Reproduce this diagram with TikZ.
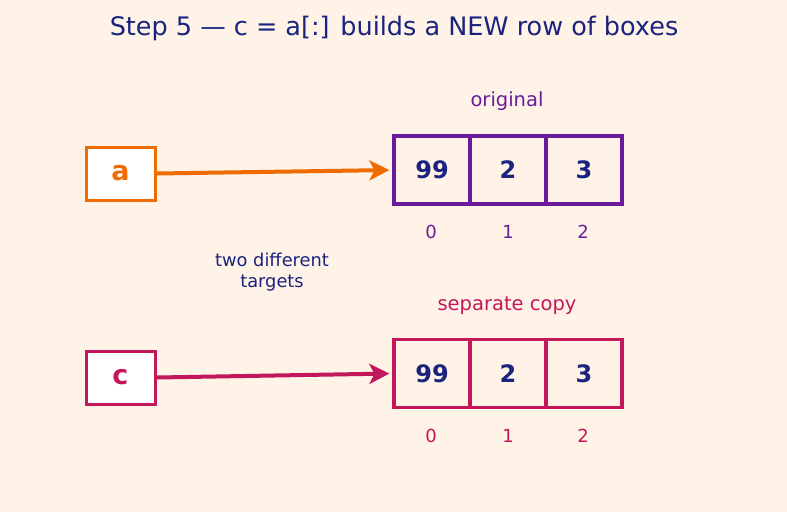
\documentclass[tikz,border=0pt]{standalone}
\usepackage{fontspec}
\setmainfont{DejaVu Sans}
\usetikzlibrary{arrows.meta,positioning}

\definecolor{paper}{HTML}{FFF2E7}
\definecolor{ink}{HTML}{1A237E}
\definecolor{orig}{HTML}{6A1B9A}
\definecolor{copyc}{HTML}{C2185B}
\definecolor{namea}{HTML}{EF6C00}

\begin{document}
\begin{tikzpicture}[x=1pt,y=-1pt]

\tikzset{
varbox/.style={draw,fill=white,line width=3pt,minimum width=69pt,minimum height=53pt,font=\fontsize{27}{30}\selectfont\bfseries},
cell/.style={draw,line width=3.2pt,minimum width=76pt,minimum height=68pt,text=ink,font=\fontsize{24}{28}\selectfont\bfseries},
idx/.style={font=\fontsize{18}{21}\selectfont},
captext/.style={font=\fontsize{19.5}{23}\selectfont},
refer/.style={line width=4pt,-{Stealth[length=20pt,width=20pt,inset=5pt]},shorten >=3pt}
}

% Canvas
\fill[paper] (0,0) rectangle (787,512);
\useasboundingbox (0,0) rectangle (787,512);

% Title
\node[text=ink,font=\fontsize{25.5}{30}\selectfont] (title) at (394,28) {Step 5 — c = a[:] builds a NEW row of boxes};

% Names
\node[varbox,draw=namea,text=namea] (boxa) at (120.5,173.5) {a};
\node[varbox,draw=copyc,text=copyc] (boxc) at (120.5,377.5) {c};

% Original row
\node[cell,draw=orig] (cella0) at (432,170) {99};
\node[cell,draw=orig] (cella1) at (508,170) {2};
\node[cell,draw=orig] (cella2) at (584,170) {3};

% Copied row
\node[cell,draw=copyc] (cellc0) at (432,373.5) {99};
\node[cell,draw=copyc] (cellc1) at (508,373.5) {2};
\node[cell,draw=copyc] (cellc2) at (584,373.5) {3};

% Indices
\node[idx,text=orig] (ia0) at (431,232) {0};
\node[idx,text=orig] (ia1) at (508,232) {1};
\node[idx,text=orig] (ia2) at (583,232) {2};
\node[idx,text=copyc] (ic0) at (431,436) {0};
\node[idx,text=copyc] (ic1) at (508,436) {1};
\node[idx,text=copyc] (ic2) at (583,436) {2};

% Arrows
\draw[refer,namea] (boxa.east) -- (cella0.west);
\draw[refer,copyc] (boxc.east) -- (cellc0.west);

% Labels
\node[captext,text=orig] (laborig) at (507,101.5) {original};
\node[captext,text=copyc] (labcopy) at (507,305.5) {separate copy};
\node[captext,text=ink,align=center,font=\fontsize{17.8}{21}\selectfont] (labdiff) at (272,272) {two different\\targets};

\end{tikzpicture}
\end{document}
